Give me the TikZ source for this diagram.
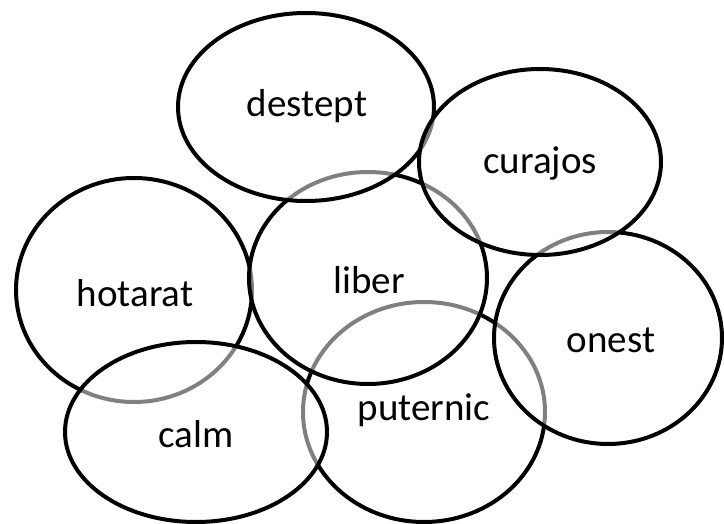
\documentclass[tikz,border=0pt]{standalone}
\usepackage{fontspec}
\setmainfont{Carlito}
\usetikzlibrary{shapes.geometric}
\begin{document}
\begin{tikzpicture}[x=1pt,y=-1pt,
  bubble/.style={ellipse, draw=black, line width=4pt, fill=white, fill opacity=0.5, draw opacity=1, inner sep=0pt},
  word/.style={font=\fontsize{39}{42}\selectfont, text=black, inner sep=0pt}]
\useasboundingbox[fill=white] (0,0) rectangle (724,524);
% drawing order: lower bubbles first
\node[bubble, minimum width=242pt, minimum height=220pt] (eput) at (424,412) {};
\node[bubble, minimum width=236pt, minimum height=224pt] (ehot) at (134,290) {};
\node[bubble, minimum width=238pt, minimum height=212pt] (elib) at (368,278) {};
\node[bubble, minimum width=228pt, minimum height=212pt] (eone) at (608,338) {};
\node[bubble, minimum width=262pt, minimum height=180pt] (ecal) at (196,432) {};
\node[bubble, minimum width=256pt, minimum height=188pt] (edes) at (306,107) {};
\node[bubble, minimum width=242pt, minimum height=186pt] (ecur) at (540,162) {};
% labels
\node[word] (tdes) at (307,106) {destept};
\node[word] (tcur) at (540,163) {curajos};
\node[word] (thot) at (135,293) {hotarat};
\node[word] (tlib) at (369,280) {liber};
\node[word] (tone) at (611,340) {onest};
\node[word] (tcal) at (196,434) {calm};
\node[word] (tput) at (424,410) {puternic};
\end{tikzpicture}
\end{document}
